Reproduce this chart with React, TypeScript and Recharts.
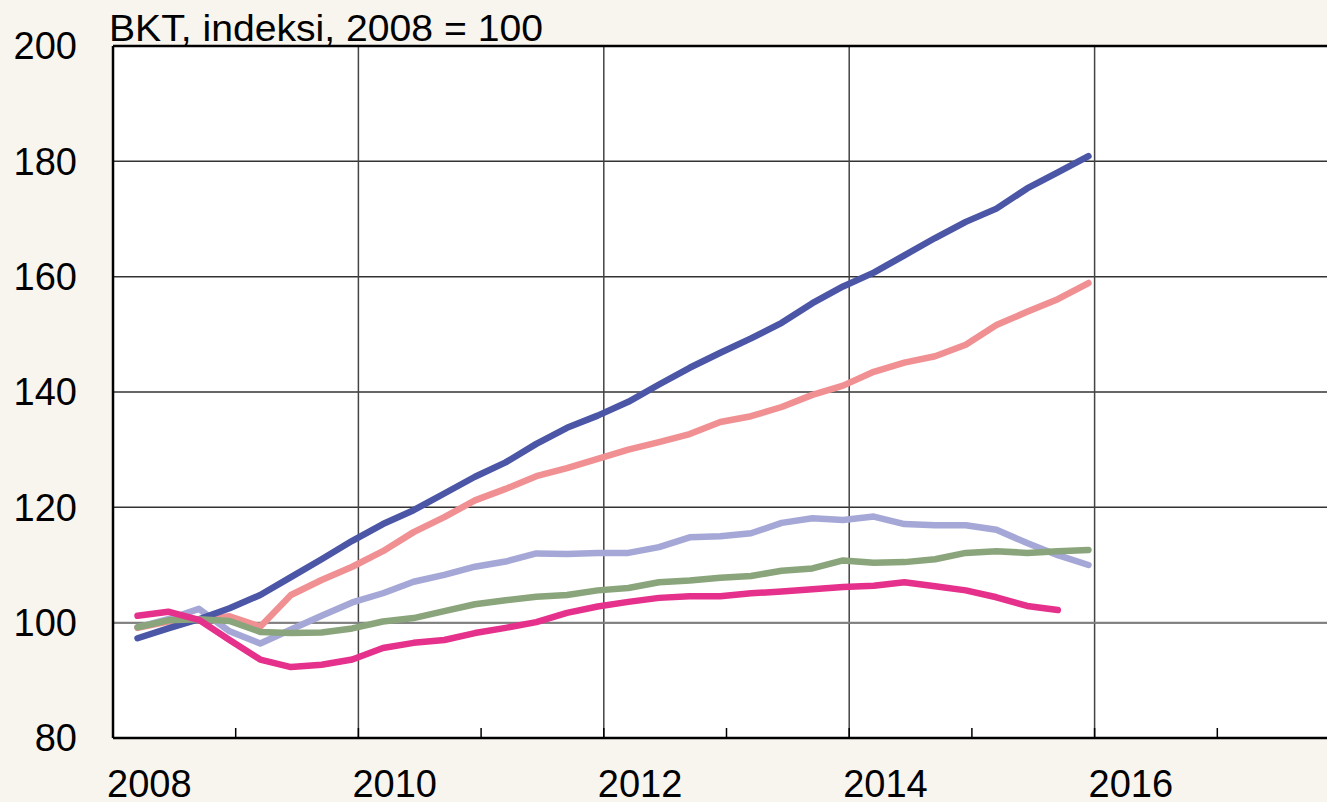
import React from "react";
import { CartesianGrid, Line, LineChart, ReferenceLine, XAxis, YAxis } from "recharts";

// quarterly, 2008Q1 .. 2015Q4
const quarters = [
  "2008Q1", "2008Q2", "2008Q3", "2008Q4", "2009Q1", "2009Q2", "2009Q3", "2009Q4",
  "2010Q1", "2010Q2", "2010Q3", "2010Q4", "2011Q1", "2011Q2", "2011Q3", "2011Q4",
  "2012Q1", "2012Q2", "2012Q3", "2012Q4", "2013Q1", "2013Q2", "2013Q3", "2013Q4",
  "2014Q1", "2014Q2", "2014Q3", "2014Q4", "2015Q1", "2015Q2", "2015Q3", "2015Q4",
];

const navy = [
  97.3, 99, 100.6, 102.5, 104.8, 107.9, 111, 114.2, 117.1, 119.5, 122.4, 125.3,
  127.8, 131, 133.8, 135.9, 138.3, 141.3, 144.2, 146.8, 149.3, 152, 155.4, 158.3,
  160.7, 163.7, 166.7, 169.5, 171.8, 175.3, 178.1, 180.9,
];
const salmon = [
  99.1, 100.2, 100.5, 101.1, 99.3, 104.8, 107.4, 109.7, 112.4, 115.7, 118.3, 121.2,
  123.2, 125.4, 126.8, 128.4, 130, 131.3, 132.7, 134.8, 135.8, 137.4, 139.5, 141.1,
  143.5, 145.1, 146.2, 148.2, 151.6, 153.9, 156.1, 158.9,
];
const lavender = [
  99.2, 100.6, 102.4, 98.5, 96.4, 98.8, 101.2, 103.5, 105.1, 107.1, 108.3, 109.7,
  110.6, 112, 111.9, 112.1, 112.1, 113.1, 114.8, 115, 115.5, 117.3, 118.1, 117.8,
  118.4, 117.1, 116.9, 116.9, 116.1, 113.8, 111.7, 110,
];
const green = [
  99.2, 100.4, 100.6, 100.3, 98.4, 98.2, 98.3, 99, 100.2, 100.8, 102, 103.2,
  103.9, 104.5, 104.8, 105.6, 106, 107, 107.3, 107.8, 108.1, 109, 109.4, 110.8,
  110.4, 110.5, 111, 112.1, 112.4, 112.1, 112.4, 112.6,
];
const magenta = [
  101.2, 101.9, 100.5, 97, 93.6, 92.3, 92.7, 93.6, 95.6, 96.5, 97, 98.2,
  99.1, 100.1, 101.7, 102.8, 103.6, 104.3, 104.6, 104.6, 105.1, 105.4, 105.8, 106.2,
  106.4, 107, 106.3, 105.6, 104.4, 102.9, 102.2, null,
];

const yTicks = [80, 100, 120, 140, 160, 180, 200];
const yearTicks = [2008, 2009, 2010, 2011, 2012, 2013, 2014, 2015, 2016, 2017, 2018];
const gridYears = [2010, 2012, 2014, 2016];
const title = "BKT, indeksi, 2008 = 100";

const data = quarters.map((q, i) => ({
  t: Number(q.slice(0, 4)) + (Number(q.slice(5)) - 1) / 4 + 0.2,
  navy: navy[i],
  salmon: salmon[i],
  lavender: lavender[i],
  green: green[i],
  magenta: magenta[i],
}));

const FONT = "'Liberation Sans', Arial, sans-serif";

const YearTick = (props: any) => {
  const { x, y, payload } = props;
  const year = payload.value;
  return (
    <g>
      <line x1={x} x2={x} y1={y} y2={y - 10} stroke="#000" strokeWidth={1.5} />
      {year % 2 === 0 && year < 2018 ? (
        <text x={x - 6} y={y + 59} fill="#000" fontSize={38} fontFamily={FONT}>
          {year}
        </text>
      ) : null}
    </g>
  );
};

const lineProps = {
  strokeWidth: 6.5,
  dot: false,
  strokeLinecap: "round" as const,
  strokeLinejoin: "round" as const,
  isAnimationActive: false,
};

export default function App() {
  return (
    <div
      style={{
        position: "absolute",
        left: 0,
        top: 0,
        width: 1327,
        height: 802,
        overflow: "hidden",
        background: "#f8f4ee",
      }}
    >
      <LineChart
        width={1360}
        height={802}
        data={data}
        margin={{ top: 46, right: 20, bottom: 0, left: 0 }}
      >
        <CartesianGrid vertical={false} stroke="#333" strokeWidth={1.5} fill="#fff" />
        {gridYears.map((yr) => (
          <ReferenceLine key={yr} x={yr} stroke="#444" strokeWidth={1.5} />
        ))}
        <ReferenceLine y={100} stroke="#808080" strokeWidth={2} />
        <ReferenceLine y={200} stroke="#000" strokeWidth={2.5} />
        <XAxis
          dataKey="t"
          type="number"
          domain={[2008, 2018]}
          ticks={yearTicks}
          interval={0}
          height={64}
          tickLine={false}
          tickSize={0}
          tickMargin={0}
          axisLine={{ stroke: "#000", strokeWidth: 2.5 }}
          tick={<YearTick />}
        />
        <YAxis
          type="number"
          domain={[80, 200]}
          ticks={yTicks}
          width={113}
          tickLine={false}
          tickSize={0}
          tickMargin={36}
          axisLine={{ stroke: "#000", strokeWidth: 2.5 }}
          tick={{ fill: "#000", fontSize: 38, fontFamily: FONT }}
        />
        <Line dataKey="lavender" stroke="#a5a8d6" {...lineProps} />
        <Line dataKey="salmon" stroke="#f09092" {...lineProps} />
        <Line dataKey="navy" stroke="#4b56a6" {...lineProps} />
        <Line dataKey="green" stroke="#8aa57b" {...lineProps} />
        <Line dataKey="magenta" stroke="#e5318b" {...lineProps} />
      </LineChart>
      <svg
        width={1327}
        height={60}
        style={{ position: "absolute", left: 0, top: 0, pointerEvents: "none" }}
      >
        <text
          x={109}
          y={41}
          fill="#000"
          fontSize={37}
          fontFamily={FONT}
          textLength={434}
          lengthAdjust="spacingAndGlyphs"
        >
          {title}
        </text>
      </svg>
    </div>
  );
}
